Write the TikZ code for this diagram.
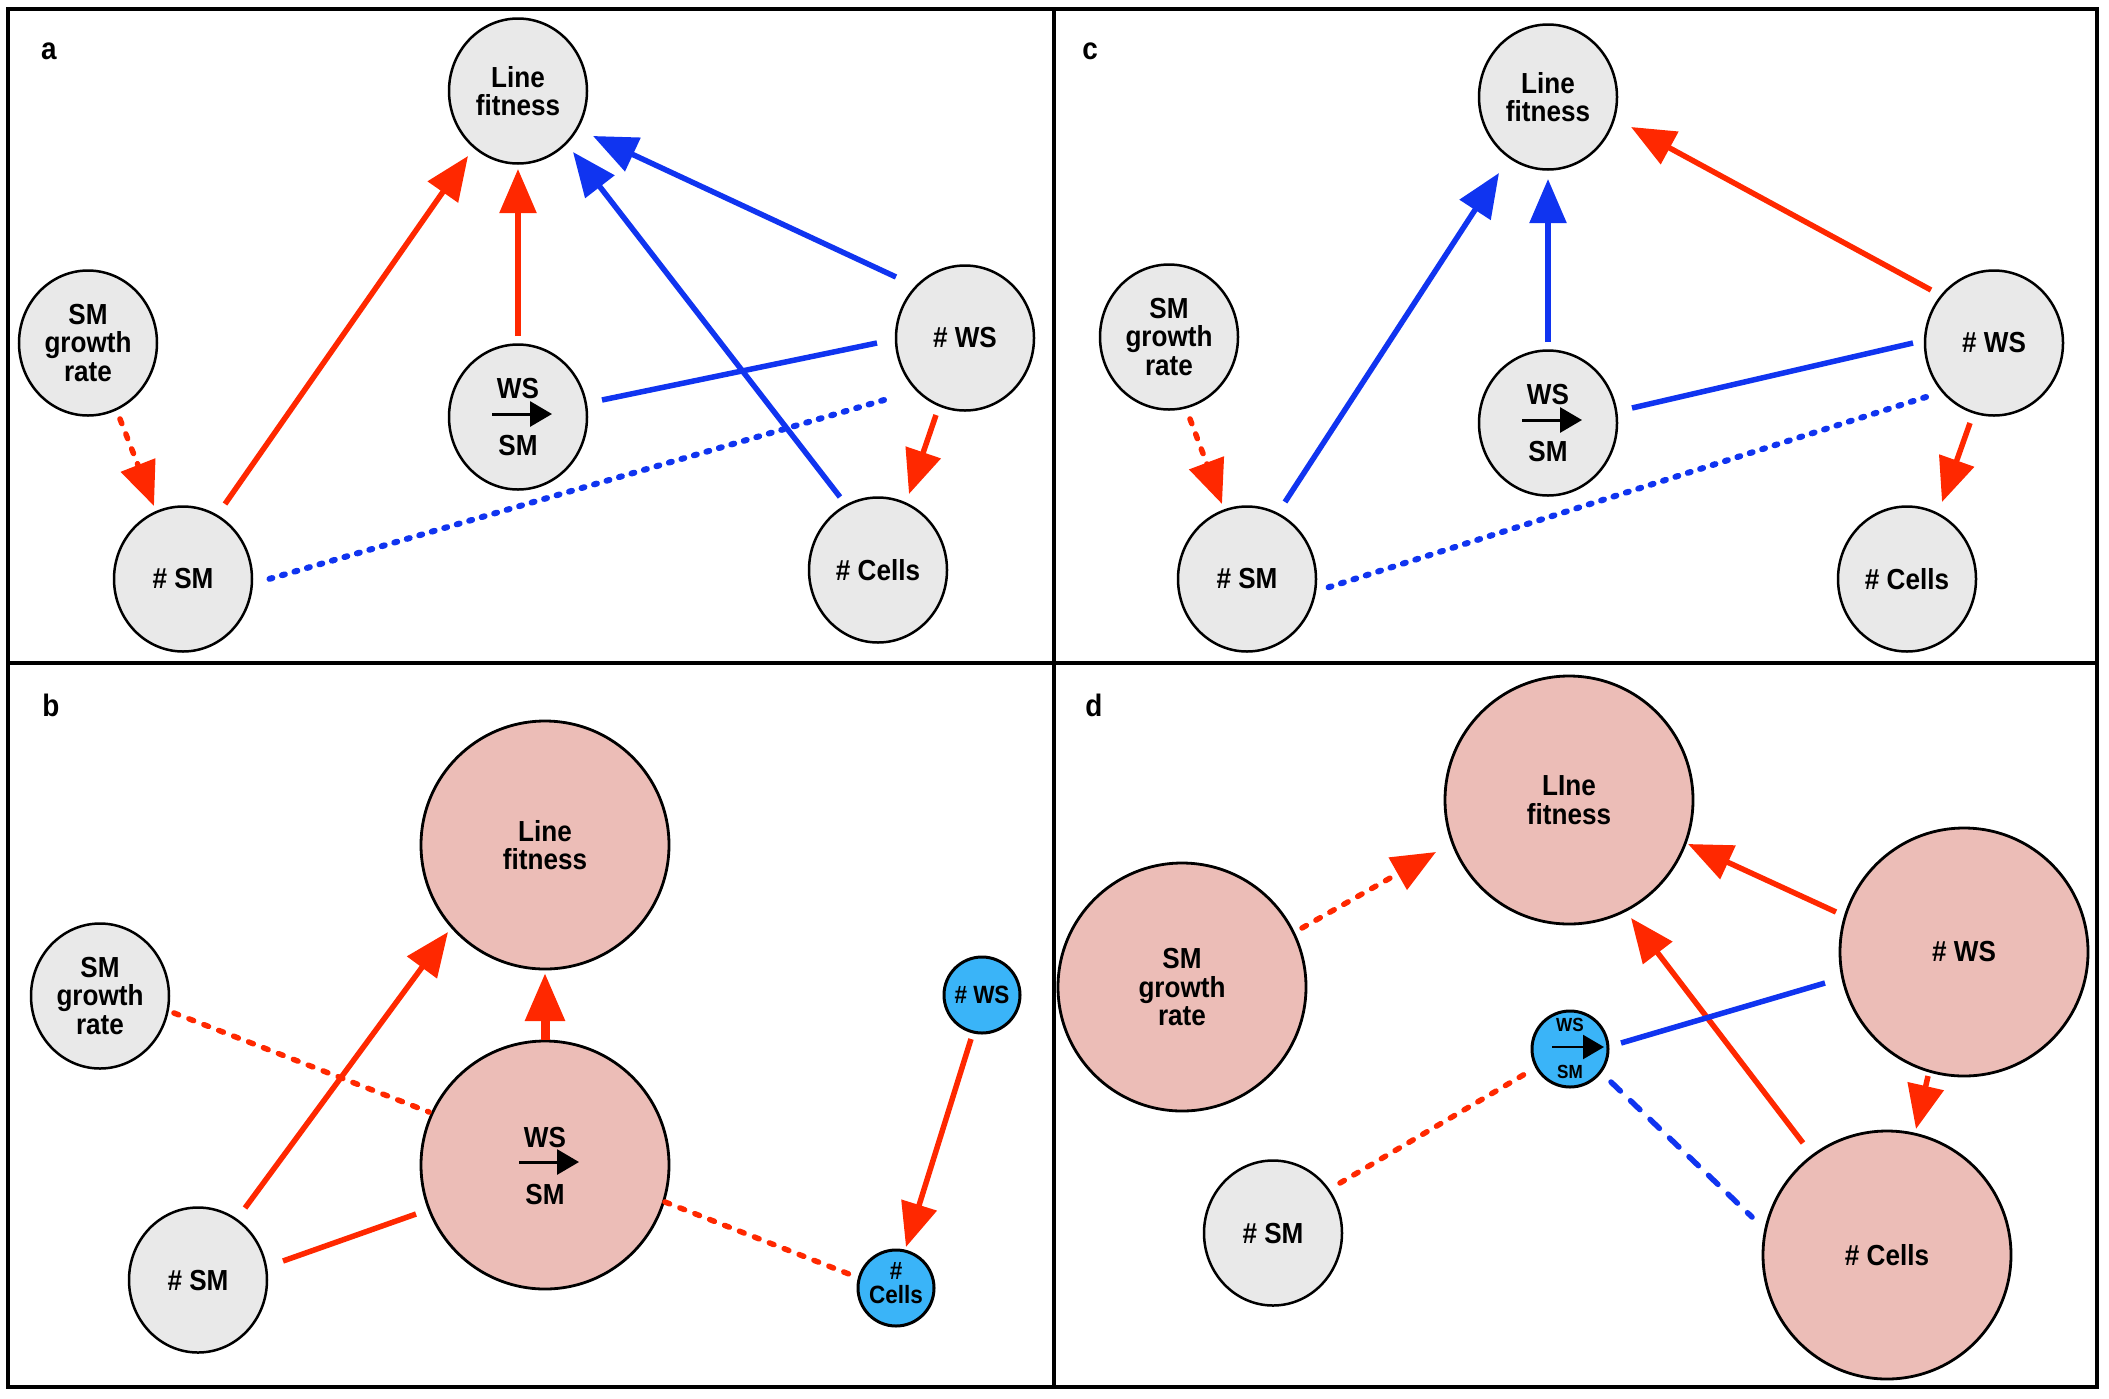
\documentclass[tikz,border=0pt]{standalone}
\usepackage{fontspec}
\setmainfont{Liberation Sans}[FakeStretch=0.9]
\usetikzlibrary{shapes.geometric,arrows.meta,calc}
\definecolor{cred}{RGB}{255,40,0}
\definecolor{cblue}{RGB}{16,52,240}
\definecolor{cgray}{RGB}{233,233,233}
\definecolor{cpink}{RGB}{236,189,183}
\definecolor{clblue}{RGB}{58,180,248}
\tikzset{
  txt/.style={font=\fontsize{29}{28.5}\selectfont\bfseries, align=center, inner sep=0pt},
  txts/.style={font=\fontsize{25}{24}\selectfont\bfseries, align=center, inner sep=0pt},
  txtxs/.style={font=\fontsize{19}{18}\selectfont\bfseries, align=center, inner sep=0pt},
  lab/.style={font=\fontsize{31}{30}\selectfont\bfseries, inner sep=0pt},
  gnode/.style={ellipse, draw, line width=2.5, fill=cgray, minimum width=138, minimum height=145, inner sep=0pt},
  pnode/.style={circle, draw, line width=2.8, fill=cpink, minimum size=248, inner sep=0pt},
  lnode/.style={circle, draw, line width=3, fill=clblue, minimum size=76, inner sep=0pt},
  conn/.style={line width=5.5},
  rline/.style={conn, draw=cred},
  bline/.style={conn, draw=cblue},
  arr/.style={-{Triangle[length=44pt,width=36pt]}},
  rdash/.style={line cap=round, dash pattern=on 5 off 11},
  bdot/.style={line width=6, line cap=round, dash pattern=on 3 off 10},
  bdash/.style={line cap=round, dash pattern=on 13 off 14},
  wssm/.pic={
    \node[txt] at (0,-28) {WS};
    \draw[black,line width=3,-{Triangle[length=22pt,width=25pt]}] (-26,-3) -- (34,-3);
    \node[txt] at (0,29) {SM};
  },
  wssmsmall/.pic={
    \node[txtxs] at (0,-24) {WS};
    \draw[black,line width=2.2,-{Triangle[length=21pt,width=24pt]}] (-18,-2) -- (34,-2);
    \node[txtxs] at (0,23) {SM};
  }
}
\begin{document}
\begin{tikzpicture}[x=1pt,y=-1pt]
\useasboundingbox (0,0) rectangle (2109,1398);
\fill[white] (0,0) rectangle (2109,1398);
% frame
\draw[line width=3.5] (8,9) rectangle (2097,1387);
\draw[line width=3.5] (1054,9) -- (1054,1387);
\draw[line width=3.5] (8,663) -- (2097,663);
% panel labels
\node[lab] (la) at (49,51) {a};
\node[lab] (lc) at (1090,51) {c};
\node[lab] (lb) at (51,705) {b};
\node[lab] (ld) at (1094,705) {d};

% ---------- panel a ----------
\node[gnode, label={[txt]center:{Line\\fitness}}] (aLF) at (518,91) {};
\node[gnode, label={[txt]center:{SM\\growth\\rate}}] (aSG) at (88,343) {};
\node[gnode, label={[txt]center:{\# SM}}] (aSM) at (183,579) {};
\node[gnode] (aWT) at (518,417) {};
\pic at (aWT) {wssm};
\node[gnode, label={[txt]center:{\# WS}}] (aWS) at (965,338) {};
\node[gnode, label={[txt]center:{\# Cells}}] (aCE) at (878,570) {};

\draw[rline,rdash,arr] ($(aSG)+(32,76)$) -- ($(aSM)+(-29,-73)$);
\draw[rline,arr] ($(aSM)+(42,-75)$) -- ($(aLF)+(-50,65)$);
\draw[rline,arr] ($(aWT)+(0,-81)$) -- ($(aLF)+(0,78)$);
\draw[bline,arr] ($(aWS)+(-69,-61)$) -- ($(aLF)+(75,45)$);
\draw[bline,arr] ($(aCE)+(-38,-73)$) -- ($(aLF)+(55,61)$);
\draw[bline] ($(aWS)+(-88,5)$) -- ($(aWT)+(84,-17)$);
\draw[bline,bdot] ($(aWS)+(-81,62)$) -- ($(aSM)+(86,0)$);
\draw[rline,arr] ($(aWS)+(-29,77)$) -- ($(aCE)+(31,-76)$);

% ---------- panel c ----------
\node[gnode, label={[txt]center:{Line\\fitness}}] (cLF) at (1548,97) {};
\node[gnode, label={[txt]center:{SM\\growth\\rate}}] (cSG) at (1169,337) {};
\node[gnode, label={[txt]center:{\# SM}}] (cSM) at (1247,579) {};
\node[gnode] (cWT) at (1548,423) {};
\pic at (cWT) {wssm};
\node[gnode, label={[txt]center:{\# WS}}] (cWS) at (1994,343) {};
\node[gnode, label={[txt]center:{\# Cells}}] (cCE) at (1907,579) {};

\draw[rline,rdash,arr] ($(cSG)+(21,82)$) -- ($(cSM)+(-25,-75)$);
\draw[bline,arr] ($(cSM)+(38,-77)$) -- ($(cLF)+(-49,76)$);
\draw[bline,arr] ($(cWT)+(0,-81)$) -- ($(cLF)+(0,82)$);
\draw[rline,arr] ($(cWS)+(-63,-53)$) -- ($(cLF)+(83,30)$);
\draw[bline] ($(cWS)+(-81,0)$) -- ($(cWT)+(84,-15)$);
\draw[bline,bdot] ($(cWS)+(-68,54)$) -- ($(cSM)+(73,11)$);
\draw[rline,arr] ($(cWS)+(-24,80)$) -- ($(cCE)+(35,-77)$);

% ---------- panel b ----------
\node[pnode, label={[txt]center:{Line\\fitness}}] (bLF) at (545,845) {};
\node[gnode, label={[txt]center:{SM\\growth\\rate}}] (bSG) at (100,996) {};
\node[pnode] (bWT) at (545,1165) {};
\pic at (bWT) {wssm};
\node[gnode, label={[txt]center:{\# SM}}] (bSM) at (198,1280) {};
\node[lnode, label={[txts]center:{\# WS}}] (bWS) at (982,995) {};
\node[lnode, label={[txts,yshift=5pt]center:{\#\\Cells}}] (bCE) at (896,1288) {};

\draw[rline,rdash] ($(bSG)+(74,17)$) -- ($(bWT)+(-116,-53)$);
\draw[rline,arr] ($(bSM)+(47,-72)$) -- ($(bLF)+(-97,87)$);
\draw[draw=cred,line width=9,-{Triangle[length=48pt,width=38pt]}] ($(bWT)+(0,-125)$) -- ($(bLF)+(0,128)$);
\draw[rline] ($(bSM)+(85,-19)$) -- ($(bWT)+(-129,49)$);
\draw[rline,rdash] ($(bWT)+(120,37)$) -- ($(bCE)+(-42,-12)$);
\draw[rline,arr] ($(bWS)+(-11,44)$) -- ($(bCE)+(10,-41)$);

% ---------- panel d ----------
\node[pnode, label={[txt]center:{LIne\\fitness}}] (dLF) at (1569,800) {};
\node[pnode, label={[txt]center:{SM\\growth\\rate}}] (dSG) at (1182,987) {};
\node[pnode, label={[txt]center:{\# WS}}] (dWS) at (1964,952) {};
\node[pnode, label={[txt]center:{\# Cells}}] (dCE) at (1887,1255) {};
\node[gnode, label={[txt]center:{\# SM}}] (dSM) at (1273,1233) {};
\node[lnode] (dWT) at (1570,1049) {};
\pic at (dWT) {wssmsmall};

\draw[rline,rdash,arr] ($(dSG)+(120,-59)$) -- ($(dLF)+(-133,52)$);
\draw[rline,arr] ($(dWS)+(-128,-40)$) -- ($(dLF)+(119,44)$);
\draw[rline,arr] ($(dCE)+(-84,-112)$) -- ($(dLF)+(62,118)$);
\draw[bline] ($(dWS)+(-139,31)$) -- ($(dWT)+(51,-6)$);
\draw[bline,bdash] ($(dWT)+(41,33)$) -- ($(dCE)+(-135,-38)$);
\draw[rline,rdash] ($(dSM)+(67,-50)$) -- ($(dWT)+(-40,22)$);
\draw[rline,arr] ($(dWS)+(-36,124)$) -- ($(dCE)+(29,-126)$);
\end{tikzpicture}
\end{document}
